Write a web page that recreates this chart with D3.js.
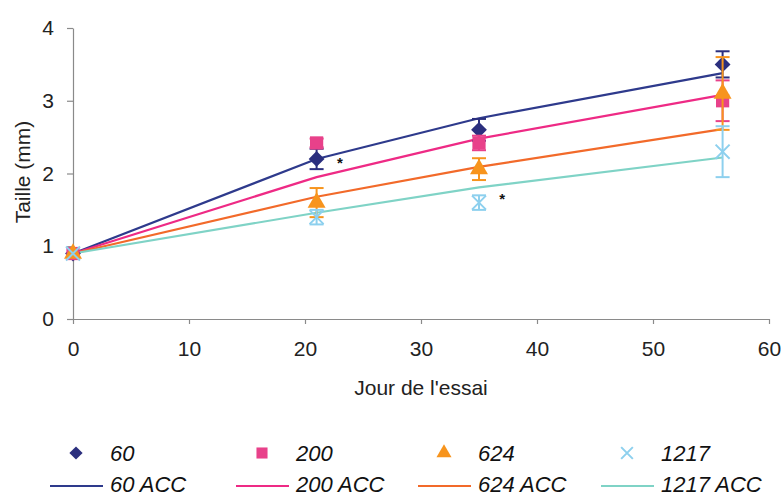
<!DOCTYPE html>
<html><head><meta charset="utf-8">
<script src="https://cdn.jsdelivr.net/npm/d3@7"></script>
<style>body{margin:0;background:#fff}svg{display:block}</style>
</head><body>
<svg id="c" width="782" height="498"></svg>
<script>
const days = [0, 21, 35, 56];
const seriesNames = ["60", "200", "624", "1217"];
const obs60 = [0.9, 2.2, 2.6, 3.5];
const obs200 = [0.9, 2.42, 2.42, 3.0];
const obs624 = [0.9, 1.6, 2.06, 3.1];
const obs1217 = [0.9, 1.4, 1.6, 2.3];
const err60 = [0, 0.14, 0.15, 0.18];
const err200 = [0, 0.06, 0.1, 0.28];
const err624 = [0, 0.2, 0.15, 0.5];
const err1217 = [0, 0.1, 0.1, 0.35];
const acc60 = [0.9, 2.2, 2.76, 3.38];
const acc200 = [0.9, 1.95, 2.48, 3.08];
const acc624 = [0.9, 1.68, 2.09, 2.61];
const acc1217 = [0.9, 1.46, 1.81, 2.22];
const xTicks = [0, 10, 20, 30, 40, 50, 60];
const yTicks = [0, 1, 2, 3, 4];
const stars = [[23, 2.2], [37, 1.7]];

const markerColors = ["#2b2f7e", "#e8418a", "#f7941d", "#8dd0ee"];
const lineColors = ["#2e3a8c", "#ee2a85", "#f26a2a", "#7fd3c6"];
const obs = [obs60, obs200, obs624, obs1217];
const errs = [err60, err200, err624, err1217];
const accs = [acc60, acc200, acc624, acc1217];

const svg = d3.select("#c");
const x = d3.scaleLinear().domain([0, 60]).range([73, 769]);
const y = d3.scaleLinear().domain([0, 4]).range([319, 28]);
const font = "Liberation Sans, Arial, sans-serif";

// axes
const xa = svg.append("g").attr("transform", `translate(0,${y(0)})`)
  .call(d3.axisBottom(x).tickValues(xTicks).tickFormat(d3.format("d")).tickSize(5).tickSizeOuter(0).tickPadding(17));
const ya = svg.append("g").attr("transform", `translate(${x(0)},0)`)
  .call(d3.axisLeft(y).tickValues(yTicks).tickFormat(d3.format("d")).tickSize(6).tickSizeOuter(0).tickPadding(13));
[xa, ya].forEach(a => {
  a.select(".domain").attr("stroke", "#8a8a8a").attr("stroke-width", 1.2);
  a.selectAll(".tick line").attr("stroke", "#8a8a8a").attr("stroke-width", 1.2);
  a.selectAll("text").attr("font-family", font).attr("font-size", 21).attr("fill", "#222");
});

svg.append("text").attr("x", 421).attr("y", 395).attr("text-anchor", "middle")
  .attr("font-family", font).attr("font-size", 21).attr("fill", "#222").text("Jour de l'essai");
svg.append("text").attr("transform", "translate(30,172) rotate(-90)").attr("text-anchor", "middle")
  .attr("font-family", font).attr("font-size", 21).attr("fill", "#222").text("Taille (mm)");

// ACC lines
const line = d3.line().x((d, i) => x(days[i])).y(d => y(d));
accs.forEach((a, k) => {
  svg.append("path").attr("d", line(a)).attr("fill", "none")
    .attr("stroke", lineColors[k]).attr("stroke-width", 2.2);
});

const symTypes = [d3.symbolSquare, d3.symbolSquare, d3.symbolTriangle, d3.symbolTimes];
const symSizes = [125, 175, 140, 130];
function drawSym(g, k, cx, cy, scale) {
  const s = d3.symbol().type(symTypes[k]).size(symSizes[k] * (scale || 1));
  const p = g.append("path").attr("d", s())
    .attr("transform", `translate(${cx},${cy})` + (k === 0 ? " rotate(45)" : ""));
  if (k === 3) p.attr("fill", "none").attr("stroke", markerColors[k]).attr("stroke-width", 2);
  else p.attr("fill", markerColors[k]);
}

// error bars + markers
obs.forEach((o, k) => {
  const g = svg.append("g");
  o.forEach((v, i) => {
    const e = errs[k][i];
    if (e > 0) {
      const cx = x(days[i]);
      g.append("line").attr("x1", cx).attr("x2", cx).attr("y1", y(v - e)).attr("y2", y(v + e))
        .attr("stroke", markerColors[k]).attr("stroke-width", 2);
      [v - e, v + e].forEach(t => g.append("line").attr("x1", cx - 7).attr("x2", cx + 7)
        .attr("y1", y(t)).attr("y2", y(t)).attr("stroke", markerColors[k]).attr("stroke-width", 2));
    }
    drawSym(g, k, x(days[i]), y(v));
  });
});

// significance stars
svg.selectAll(".star").data(stars).join("text").attr("class", "star")
  .attr("x", d => x(d[0])).attr("y", d => y(d[1]) + 9).attr("text-anchor", "middle")
  .attr("font-family", font).attr("font-weight", "bold").attr("font-size", 15).attr("fill", "#111").text("*");

// legend
const colX = [76, 262, 444, 627];
seriesNames.forEach((n, k) => {
  const lg = svg.append("g");
  drawSym(lg, k, colX[k], 453, 0.7);
  lg.append("text").attr("x", colX[k] + 34).attr("y", 461).attr("font-family", font)
    .attr("font-style", "italic").attr("font-size", 22).attr("fill", "#111").text(n);
  lg.append("line").attr("x1", colX[k] - 26).attr("x2", colX[k] + 27).attr("y1", 486).attr("y2", 486)
    .attr("stroke", lineColors[k]).attr("stroke-width", 2.2);
  lg.append("text").attr("x", colX[k] + 34).attr("y", 492).attr("font-family", font)
    .attr("font-style", "italic").attr("font-size", 22).attr("fill", "#111").text(n + " ACC");
});
</script>
</body></html>
